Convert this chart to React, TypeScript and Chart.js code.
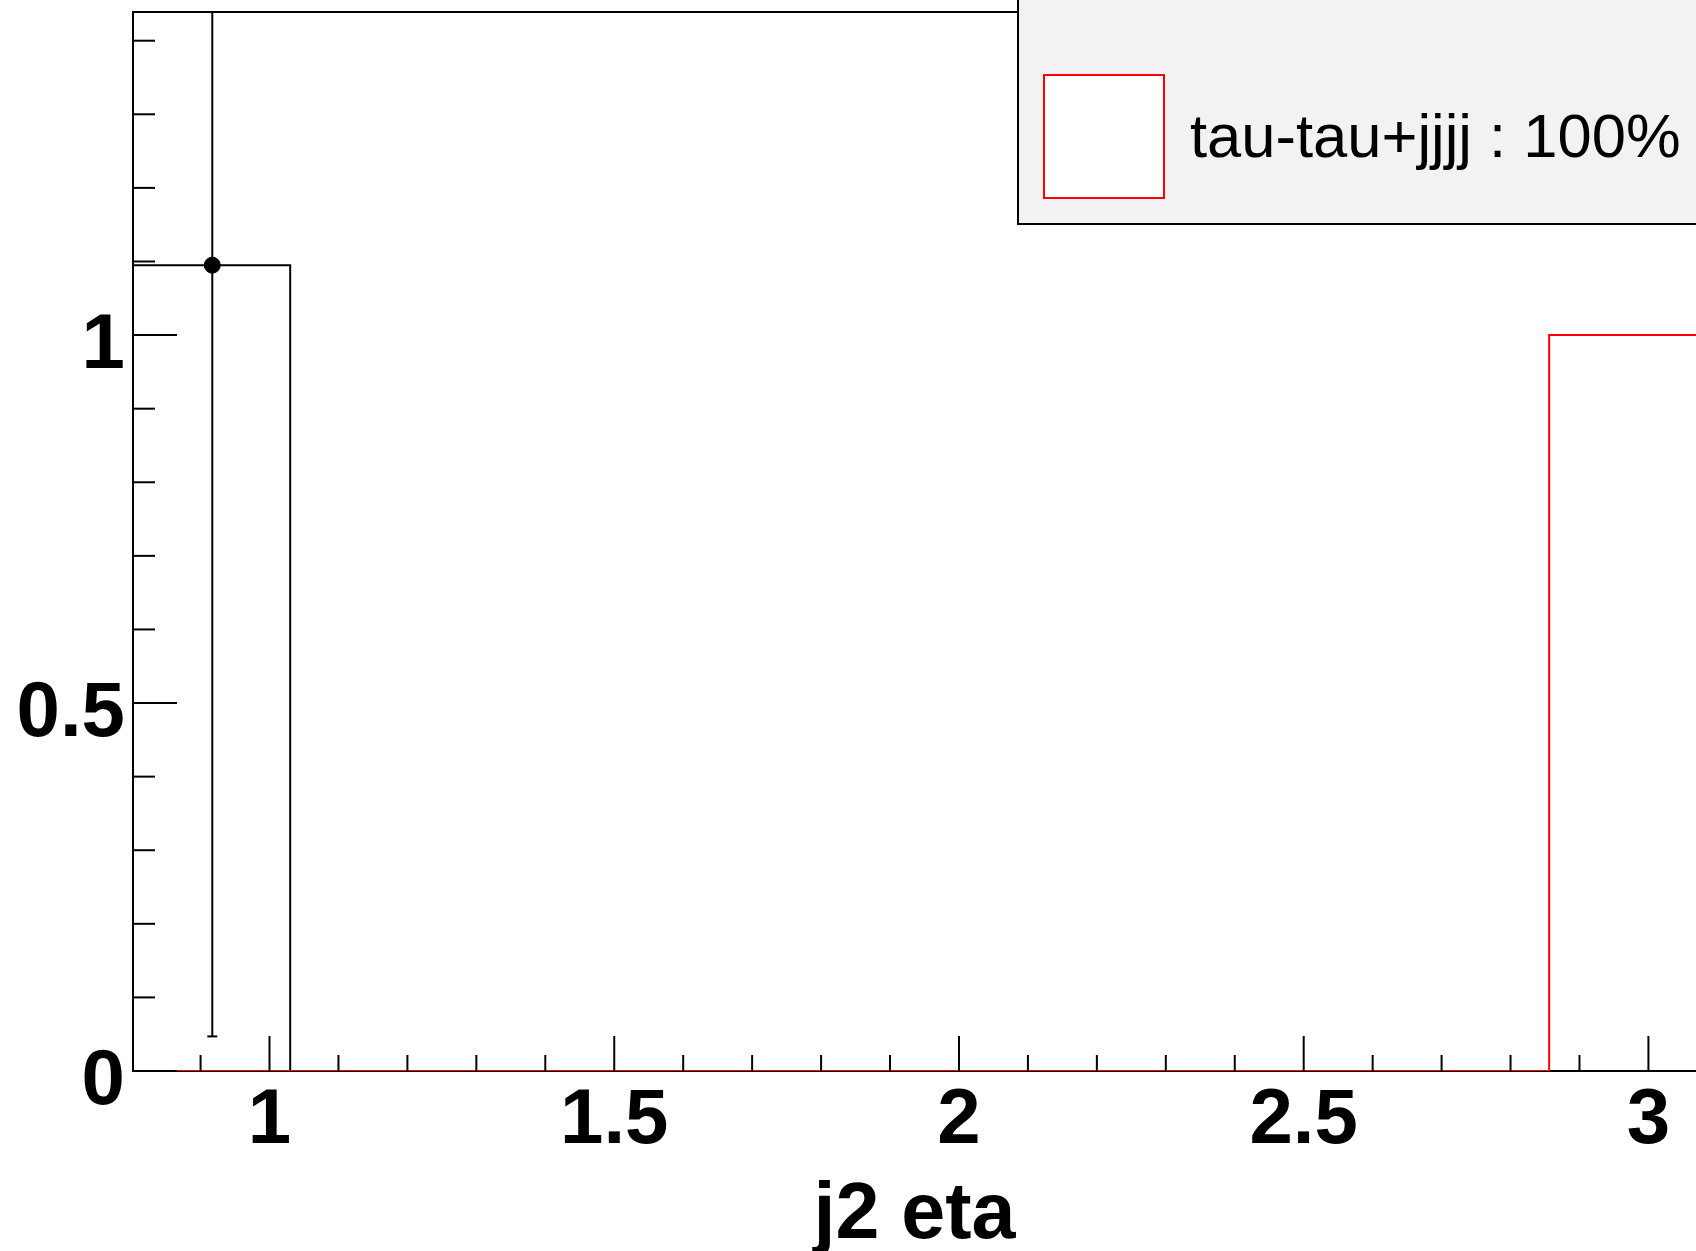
import React, { useEffect, useRef } from "react";
import { Chart, registerables } from "chart.js";

Chart.register(...registerables);

// ---- data ----
const binEdges = [0.802, 1.03, 1.258, 1.487, 1.715, 1.943, 2.171, 2.4, 2.628, 2.856, 3.084];
const dataHistCounts = [1.095, 0, 0, 0, 0, 0, 0, 0, 0, 0];
const tautauCounts = [0, 0, 0, 0, 0, 0, 0, 0, 0, 1];
const dataPointX = [0.917];
const dataPointY = [1.095];
const dataPointErr = [1.048];
const xMajorTicks = [1, 1.5, 2, 2.5, 3];
const xMinorTicks = [0.9, 1.1, 1.2, 1.3, 1.4, 1.6, 1.7, 1.8, 1.9, 2.1, 2.2, 2.3, 2.4, 2.6, 2.7, 2.8, 2.9];
const yMajorTicks = [0, 0.5, 1];
const yMinorTicks = [0.1, 0.2, 0.3, 0.4, 0.6, 0.7, 0.8, 0.9, 1.1, 1.2, 1.3, 1.4];
const legendLabels = ["tau-tau+jjjj : 100%"];
const xTitle = "j2 eta";
const X_MIN = 0.802;
const X_MAX = 3.069;
const Y_MIN = 0;
const Y_MAX = 1.439;

const W = 1696;
const H = 1251;
const AREA_LEFT = 133;
const AREA_TOP = 12;
const AREA_BOTTOM = 1071;

function toSteps(edges: number[], counts: number[]) {
  const pts = counts.map((c, i) => ({ x: edges[i], y: c }));
  pts.push({ x: edges[counts.length], y: 0 });
  return pts;
}

const rootPlugin = {
  id: "rootDecor",
  beforeDatasetsDraw(chart: any) {
    const { ctx, chartArea, scales } = chart;
    const xs = scales.x;
    const ys = scales.y;
    ctx.save();
    ctx.beginPath();
    ctx.rect(chartArea.left, chartArea.top, chartArea.right - chartArea.left, chartArea.bottom - chartArea.top);
    ctx.clip();
    ctx.strokeStyle = "#000";
    ctx.lineWidth = 2;
    dataPointX.forEach((x, i) => {
      const px = xs.getPixelForValue(x);
      const lo = ys.getPixelForValue(dataPointY[i] - dataPointErr[i]);
      const hi = ys.getPixelForValue(dataPointY[i] + dataPointErr[i]);
      ctx.beginPath();
      ctx.moveTo(px, lo);
      ctx.lineTo(px, hi);
      ctx.stroke();
      ctx.beginPath();
      ctx.moveTo(px - 5, lo);
      ctx.lineTo(px + 5, lo);
      ctx.stroke();
    });
    ctx.restore();
  },
  afterDraw(chart: any) {
    const { ctx, chartArea, scales } = chart;
    const xs = scales.x;
    const ys = scales.y;
    ctx.save();
    ctx.strokeStyle = "#000";
    ctx.lineWidth = 2;
    // frame top
    ctx.beginPath();
    ctx.moveTo(chartArea.left, chartArea.top);
    ctx.lineTo(chartArea.right, chartArea.top);
    ctx.stroke();
    // x ticks (inside)
    const drawX = (vals: number[], len: number) => {
      vals.forEach((v) => {
        const px = xs.getPixelForValue(v);
        ctx.beginPath();
        ctx.moveTo(px, chartArea.bottom);
        ctx.lineTo(px, chartArea.bottom - len);
        ctx.stroke();
      });
    };
    drawX(xMajorTicks, 35);
    drawX(xMinorTicks, 16);
    const drawY = (vals: number[], len: number) => {
      vals.forEach((v) => {
        const py = ys.getPixelForValue(v);
        ctx.beginPath();
        ctx.moveTo(chartArea.left, py);
        ctx.lineTo(chartArea.left + len, py);
        ctx.stroke();
      });
    };
    drawY(yMajorTicks, 44);
    drawY(yMinorTicks, 22);

    // legend
    const lx = 1018;
    const lb = 224;
    ctx.fillStyle = "#f2f2f2";
    ctx.fillRect(lx, -10, W - lx + 20, lb + 10);
    ctx.strokeStyle = "#000";
    ctx.lineWidth = 2;
    ctx.strokeRect(lx, -10, W - lx + 20, lb + 10);
    ctx.fillStyle = "#fff";
    ctx.fillRect(1044, 75, 120, 123);
    ctx.strokeStyle = "#ff0000";
    ctx.strokeRect(1044, 75, 120, 123);
    ctx.fillStyle = "#000";
    ctx.font = "61.5px 'Liberation Sans', Arial, sans-serif";
    ctx.textBaseline = "alphabetic";
    ctx.textAlign = "left";
    ctx.fillText(legendLabels[0], 1190, 157);
    ctx.restore();
  },
};

export default function App() {
  const ref = useRef<HTMLCanvasElement | null>(null);
  useEffect(() => {
    document.body.style.margin = "0";
    const canvas = ref.current;
    if (!canvas) return;
    const tickFont = { family: "'Liberation Sans', Arial, sans-serif", weight: "bold" as const, size: 78 };
    const chart = new Chart(canvas, {
      type: "line",
      data: {
        datasets: [
          {
            type: "scatter",
            label: "data",
            data: dataPointX.map((x, i) => ({ x, y: dataPointY[i] })),
            pointRadius: 8,
            pointBackgroundColor: "#000",
            pointBorderColor: "#000",
            borderColor: "#000",
            backgroundColor: "#000",
            order: 0,
          } as any,
          {
            type: "line",
            label: "data hist",
            data: toSteps(binEdges, dataHistCounts),
            stepped: "before",
            borderColor: "#000",
            borderWidth: 2,
            pointRadius: 0,
            fill: false,
            order: 2,
          } as any,
          {
            type: "line",
            label: legendLabels[0],
            data: toSteps(binEdges, tautauCounts),
            stepped: "before",
            borderColor: "#ff0000",
            borderWidth: 2,
            pointRadius: 0,
            fill: false,
            order: 1,
          } as any,
        ],
      },
      options: {
        responsive: false,
        devicePixelRatio: 1,
        animation: false,
        events: [],
        layout: { autoPadding: false, padding: { top: AREA_TOP, left: 0, right: 0, bottom: 0 } },
        plugins: { legend: { display: false }, tooltip: { enabled: false }, title: { display: false } },
        scales: {
          x: {
            type: "linear",
            min: X_MIN,
            max: X_MAX,
            z: 1,
            afterBuildTicks: (s: any) => {
              s.ticks = xMajorTicks.map((v) => ({ value: v }));
            },
            afterFit: (s: any) => {
              s.height = H - AREA_BOTTOM;
              s.paddingLeft = 0;
              s.paddingRight = 0;
            },
            grid: { display: true, drawOnChartArea: false, drawTicks: false },
            border: { display: true, color: "#000", width: 2 },
            ticks: {
              color: "#000",
              font: tickFont,
              padding: 4,
              maxRotation: 0,
              autoSkip: false,
              callback: (v: any) => String(v),
            },
            title: {
              display: true,
              text: xTitle,
              color: "#000",
              font: { family: "'Liberation Sans', Arial, sans-serif", weight: "bold", size: 79, lineHeight: 0.8 },
              padding: { top: 0, bottom: 3 },
            },
          },
          y: {
            type: "linear",
            min: Y_MIN,
            max: Y_MAX,
            afterBuildTicks: (s: any) => {
              s.ticks = yMajorTicks.map((v) => ({ value: v }));
            },
            afterFit: (s: any) => {
              s.width = AREA_LEFT;
              s.paddingTop = 0;
              s.paddingBottom = 0;
            },
            grid: { display: true, drawOnChartArea: false, drawTicks: false },
            border: { display: true, color: "#000", width: 2 },
            ticks: {
              color: "#000",
              font: tickFont,
              padding: 8,
              labelOffset: 11,
              autoSkip: false,
              callback: (v: any) => String(v),
            },
          },
        },
      } as any,
      plugins: [rootPlugin],
    });
    return () => chart.destroy();
  }, []);
  return (
    <canvas ref={ref} width={W} height={H} style={{ display: "block", width: W, height: H }} />
  );
}
